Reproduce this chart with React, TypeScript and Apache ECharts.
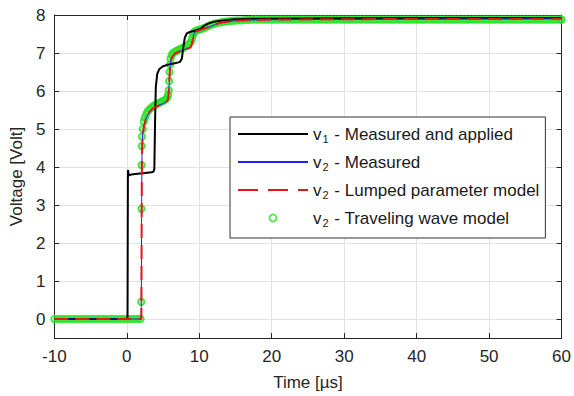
import { useEffect, useRef } from "react";
import * as echarts from "echarts";

// v1 - measured and applied voltage [time µs, volt]
const v1Measured: [number, number][] = [
  [-10, 0], [0.1, 0], [0.15, 3.92], [0.3, 3.78], [0.6, 3.8], [1.5, 3.82], [2.5, 3.84],
  [3.4, 3.86], [3.7, 3.88], [3.8, 3.95], [3.9, 5.2], [4.0, 6.1], [4.2, 6.45], [4.5, 6.58],
  [5.0, 6.65], [5.8, 6.7], [6.6, 6.73], [7.3, 6.76], [7.6, 6.85], [7.8, 7.15], [8.0, 7.4],
  [8.3, 7.52], [8.8, 7.56], [9.6, 7.6], [10.2, 7.64], [10.7, 7.72], [11.3, 7.78], [12, 7.82],
  [13, 7.85], [14.5, 7.88], [17, 7.9], [25, 7.91], [40, 7.92], [60, 7.92],
];

// v2 - measured
const v2Measured: [number, number][] = [
  [-10, 0], [1.98, 0], [2.0, 0.3], [2.06, 3.5], [2.1, 4.5], [2.2, 4.9], [2.4, 5.1], [2.7, 5.3],
  [3.1, 5.45], [3.6, 5.54], [4.3, 5.61], [5.1, 5.68], [5.6, 5.74], [5.75, 5.85], [5.85, 6.2],
  [5.95, 6.6], [6.1, 6.85], [6.5, 6.97], [7.2, 7.04], [8.1, 7.1], [8.8, 7.16], [9.05, 7.3],
  [9.25, 7.5], [9.5, 7.57], [10.2, 7.61], [11.2, 7.67], [12.2, 7.75], [13.2, 7.8], [15, 7.85],
  [17, 7.87], [22, 7.88], [60, 7.9],
];

// v2 - lumped parameter model
const v2Lumped: [number, number][] = [
  [-10, 0], [2.0, 0], [2.02, 0.45], [2.05, 2.9], [2.08, 4.05], [2.12, 4.55], [2.2, 4.85],
  [2.35, 5.05], [2.6, 5.25], [3.0, 5.42], [3.5, 5.53], [4.2, 5.6], [5.0, 5.67], [5.5, 5.72],
  [5.7, 5.8], [5.8, 6.0], [5.9, 6.4], [6.0, 6.7], [6.2, 6.88], [6.6, 6.98], [7.3, 7.05],
  [8.2, 7.1], [8.8, 7.15], [9.0, 7.25], [9.2, 7.45], [9.45, 7.56], [10, 7.6], [11, 7.66],
  [12, 7.74], [13, 7.8], [14.5, 7.84], [16.5, 7.86], [20, 7.88], [30, 7.89], [60, 7.9],
];

// v2 - traveling wave model (sampled points)
const twTime: number[] = [
  -10, -9.5, -9, -8.5, -8, -7.5, -7, -6.5, -6, -5.5, -5, -4.5, -4, -3.5, -3, -2.5, -2, -1.5, -1,
  -0.5, 0, 0.5, 1, 1.5, 1.9, 2.0, 2.02, 2.04, 2.06, 2.1, 2.2, 2.35, 2.5, 2.7, 2.9, 3.2, 3.5,
  3.8, 4.1, 4.4, 4.7, 5.0, 5.3, 5.55, 5.7, 5.78, 5.84, 5.9, 5.97, 6.05, 6.2, 6.4, 6.7, 7.0,
  7.3, 7.6, 7.9, 8.2, 8.5, 8.8, 9.0, 9.15, 9.3, 9.55, 9.9, 10.3, 10.7, 11.1, 11.5, 11.9, 12.3,
  12.8, 13.3, 13.8, 14.3, 14.8, 15.3, 15.8, 16.3, 16.8, 17.3, 17.8, 18.3, 18.8, 19.3, 19.8,
  20.3, 20.8, 21.3, 21.8, 22.3, 22.8, 23.3, 23.8, 24.3, 24.8, 25.3, 25.8, 26.3, 26.8, 27.3,
  27.8, 28.3, 28.8, 29.3, 29.8, 30.3, 30.8, 31.3, 31.8, 32.3, 32.8, 33.3, 33.8, 34.3, 34.8,
  35.3, 35.8, 36.3, 36.8, 37.3, 37.8, 38.3, 38.8, 39.3, 39.8, 40.3, 40.8, 41.3, 41.8, 42.3,
  42.8, 43.3, 43.8, 44.3, 44.8, 45.3, 45.8, 46.3, 46.8, 47.3, 47.8, 48.3, 48.8, 49.3, 49.8,
  50.3, 50.8, 51.3, 51.8, 52.3, 52.8, 53.3, 53.8, 54.3, 54.8, 55.3, 55.8, 56.3, 56.8, 57.3,
  57.8, 58.3, 58.8, 59.3, 59.8, 60,
];
const twVolt: number[] = [
  0, 0, 0, 0, 0, 0, 0, 0, 0, 0, 0, 0, 0, 0, 0, 0, 0, 0, 0,
  0, 0, 0, 0, 0, 0, 0.45, 2.9, 4.05, 4.55, 4.8, 5.0, 5.2, 5.3, 5.4, 5.47, 5.53, 5.58,
  5.62, 5.65, 5.68, 5.71, 5.74, 5.77, 5.82, 5.9, 6.02, 6.26, 6.5, 6.7, 6.85, 6.95, 7.0, 7.04, 7.07,
  7.1, 7.12, 7.15, 7.18, 7.22, 7.28, 7.38, 7.48, 7.55, 7.59, 7.61, 7.63, 7.66, 7.7, 7.73, 7.76, 7.78,
  7.8, 7.82, 7.83, 7.84, 7.85, 7.86, 7.86, 7.87, 7.87, 7.88, 7.88, 7.88, 7.88, 7.88, 7.88,
  7.88, 7.88, 7.88, 7.88, 7.88, 7.88, 7.88, 7.88, 7.88, 7.88, 7.88, 7.88, 7.88, 7.88, 7.88,
  7.88, 7.88, 7.88, 7.88, 7.88, 7.88, 7.88, 7.88, 7.88, 7.88, 7.88, 7.88, 7.88, 7.88, 7.88,
  7.88, 7.88, 7.88, 7.88, 7.88, 7.88, 7.88, 7.88, 7.88, 7.88, 7.88, 7.88, 7.88, 7.88, 7.88,
  7.88, 7.88, 7.88, 7.88, 7.88, 7.88, 7.88, 7.88, 7.88, 7.88, 7.88, 7.88, 7.88, 7.88, 7.88,
  7.88, 7.88, 7.88, 7.88, 7.88, 7.88, 7.88, 7.88, 7.88, 7.88, 7.88, 7.88, 7.88, 7.88, 7.88,
  7.88, 7.88, 7.88, 7.88, 7.88, 7.88,
];

const seriesNames = [
  "v1 - Measured and applied",
  "v2 - Measured",
  "v2 - Lumped parameter model",
  "v2 - Traveling wave model",
];
const legendSubs = ["1", "2", "2", "2"];
const legendRests = [
  " - Measured and applied",
  " - Measured",
  " - Lumped parameter model",
  " - Traveling wave model",
];

const xRange = { min: -10, max: 60, interval: 10 };
const yRange = { min: -0.5, max: 8 };
const yTickValues = [0, 1, 2, 3, 4, 5, 6, 7, 8];

const FONT = "'Liberation Sans', Arial, Helvetica, sans-serif";
const AXIS_COLOR = "#262626";
const GREEN = "#1fe01f";
const GREEN_FILL = "rgba(60,235,60,0.55)";

export default function App() {
  const ref = useRef<HTMLDivElement>(null);

  useEffect(() => {
    if (!ref.current) return;
    const chart = echarts.init(ref.current, undefined, { renderer: "svg" });

    const twData = twTime.map((t, i) => [t, twVolt[i]]);

    const xCommon = {
      type: "value" as const,
      min: xRange.min,
      max: xRange.max,
      interval: xRange.interval,
    };
    const yCommon = {
      type: "value" as const,
      min: yRange.min,
      max: yRange.max,
    };

    chart.setOption({
      animation: false,
      backgroundColor: "#ffffff",
      grid: { left: 54, right: 11, top: 15, bottom: 55, containLabel: false },
      legend: {
        orient: "vertical",
        left: 230,
        top: 117,
        padding: [7, 6, 10, 7],
        itemGap: 8,
        itemWidth: 70,
        itemHeight: 7,
        backgroundColor: "#ffffff",
        borderColor: "#333333",
        borderWidth: 1,
        borderRadius: 0,
        selectedMode: false,
        formatter: (name: string) => {
          const i = seriesNames.indexOf(name);
          return `{v|v}{s|${legendSubs[i]}}{t|${legendRests[i]}}`;
        },
        textStyle: {
          fontFamily: FONT,
          fontSize: 17,
          color: "#1a1a1a",
          lineHeight: 20,
          rich: {
            v: { fontFamily: FONT, fontSize: 17, color: "#1a1a1a", lineHeight: 20 },
            s: { fontFamily: FONT, fontSize: 11, color: "#1a1a1a", lineHeight: 20, padding: [9, 1, 0, 1] },
            t: { fontFamily: FONT, fontSize: 17, color: "#1a1a1a", lineHeight: 20 },
          },
        },
        data: [
          { name: seriesNames[0], itemStyle: { opacity: 0 } },
          { name: seriesNames[1], itemStyle: { opacity: 0 } },
          { name: seriesNames[2], itemStyle: { opacity: 0 }, lineStyle: { type: [20, 10] } },
          {
            name: seriesNames[3],
            itemStyle: { color: "rgba(0,0,0,0)", borderColor: GREEN, borderWidth: 1.8 },
          },
        ],
      },
      xAxis: [
        {
          ...xCommon,
          position: "bottom",
          name: "Time [µs]",
          nameLocation: "middle",
          nameGap: 36,
          nameTextStyle: { fontFamily: FONT, fontSize: 17, color: "#262626" },
          axisLine: { onZero: false, lineStyle: { color: AXIS_COLOR, width: 1 } },
          axisTick: { inside: true, length: 5, lineStyle: { color: AXIS_COLOR } },
          axisLabel: { margin: 10, fontFamily: FONT, fontSize: 17, color: "#262626" },
          splitLine: { show: true, lineStyle: { color: "#e3e3e3", width: 1 } },
        },
        {
          ...xCommon,
          position: "top",
          axisLine: { onZero: false, lineStyle: { color: AXIS_COLOR, width: 1 } },
          axisTick: { inside: true, length: 5, lineStyle: { color: AXIS_COLOR } },
          axisLabel: { show: false },
          splitLine: { show: false },
        },
      ],
      yAxis: [
        {
          ...yCommon,
          position: "left",
          name: "Voltage [Volt]",
          nameLocation: "middle",
          nameGap: 28,
          nameTextStyle: { fontFamily: FONT, fontSize: 17, color: "#262626" },
          axisLine: { show: true, onZero: false, lineStyle: { color: AXIS_COLOR, width: 1 } },
          axisTick: {
            show: true,
            inside: true,
            length: 5,
            customValues: yTickValues,
            lineStyle: { color: AXIS_COLOR },
          },
          axisLabel: {
            margin: 9,
            customValues: yTickValues,
            fontFamily: FONT,
            fontSize: 17,
            color: "#262626",
          },
          splitLine: { show: true, lineStyle: { color: "#e3e3e3", width: 1 } },
        },
        {
          ...yCommon,
          position: "right",
          axisLine: { show: true, onZero: false, lineStyle: { color: AXIS_COLOR, width: 1 } },
          axisTick: {
            show: true,
            inside: true,
            length: 5,
            customValues: yTickValues,
            lineStyle: { color: AXIS_COLOR },
          },
          axisLabel: { show: false, customValues: yTickValues },
          splitLine: { show: false },
        },
      ],
      series: [
        {
          name: seriesNames[0],
          type: "line",
          xAxisIndex: 0,
          yAxisIndex: 0,
          data: v1Measured,
          symbol: "none",
          showSymbol: false,
          z: 3,
          color: "#000000",
          lineStyle: { color: "#000000", width: 2 },
        },
        {
          name: seriesNames[1],
          type: "line",
          xAxisIndex: 0,
          yAxisIndex: 0,
          data: v2Measured,
          symbol: "none",
          showSymbol: false,
          z: 4,
          color: "#2020ff",
          lineStyle: { color: "#2020ff", width: 1 },
        },
        {
          name: seriesNames[2],
          type: "line",
          xAxisIndex: 0,
          yAxisIndex: 0,
          data: v2Lumped,
          symbol: "none",
          showSymbol: false,
          z: 5,
          color: "#e8141e",
          lineStyle: { color: "#e8141e", width: 2, type: [14, 7] },
        },
        {
          name: seriesNames[3],
          type: "scatter",
          xAxisIndex: 0,
          yAxisIndex: 0,
          data: twData,
          symbol: "circle",
          symbolSize: 6.5,
          z: 2,
          itemStyle: { color: GREEN_FILL, borderColor: GREEN, borderWidth: 1.8 },
        },
      ],
    });

    return () => chart.dispose();
  }, []);

  return (
    <div
      ref={ref}
      style={{ position: "fixed", left: 0, top: 0, width: 574, height: 396, background: "#fff" }}
    />
  );
}
